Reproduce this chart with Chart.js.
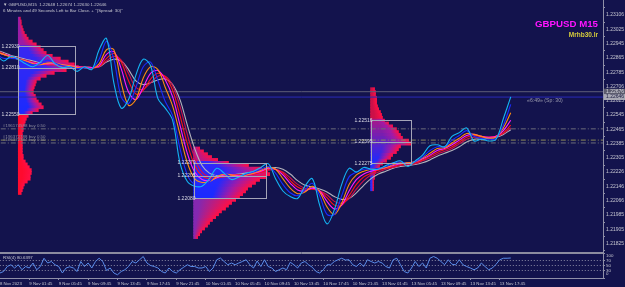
<!DOCTYPE html>
<html lang="en">
<head>
<meta charset="utf-8">
<title>GBPUSD M15</title>
<script src="https://cdn.jsdelivr.net/npm/chart.js@4.4.0/dist/chart.umd.min.js"></script>
<style>
  html, body { margin: 0; padding: 0; background: #13134d; }
  #wrap { position: relative; width: 625px; height: 287px; overflow: hidden; }
  #main { position: absolute; left: 0; top: 0; }
  #rsi { position: absolute; left: 0; top: 253px; }
</style>
</head>
<body>
<div id="wrap">
  <canvas id="main" width="625" height="253"></canvas>
  <canvas id="rsi" width="625" height="34"></canvas>
</div>
<script>
// x axis = M15 bar index, bar 0 = 9 Nov 01:45
var xMin = -15.95, xMax = 312.2;
var yMin = 1.21820, yMax = 1.23148;

var priceTicks = [1.23106, 1.23025, 1.22945, 1.22865, 1.22785, 1.22706, 1.22625, 1.22545, 1.22465,
  1.22385, 1.22305, 1.22226, 1.22146, 1.22066, 1.21985, 1.21905, 1.21825];
var timeBars = [-16, 0, 16, 32, 48, 64, 80, 96, 112, 128, 144, 160, 176, 192, 208, 224, 240, 256];
var timeLabels = ["8 Nov 2023", "9 Nov 01:45", "9 Nov 05:45", "9 Nov 09:45", "9 Nov 13:45", "9 Nov 17:45",
  "9 Nov 21:45", "10 Nov 01:45", "10 Nov 05:45", "10 Nov 09:45", "10 Nov 13:45", "10 Nov 17:45",
  "10 Nov 21:45", "13 Nov 01:45", "13 Nov 05:45", "13 Nov 09:45", "13 Nov 13:45", "13 Nov 17:45"];

// moving average ribbon, one value every 4 bars starting at bar -18
var maFirstBar = -18, maStep = 4;
var cyanMA = [1.22885,1.22848,1.22874,1.22858,1.22832,1.22816,1.22842,1.22879,1.22832,1.22811,
  1.22816,1.22790,1.22816,1.22800,1.22911,1.22974,1.22726,1.22584,1.22632,1.22769,
  1.22858,1.22821,1.22637,1.22584,1.22516,1.22278,1.22173,1.22147,1.22147,1.22189,
  1.22247,1.22220,1.22184,1.22199,1.22220,1.22231,1.22252,1.22273,1.22189,1.22120,
  1.22089,1.22078,1.22147,1.22189,1.22041,1.21936,1.22015,1.22157,1.22247,1.22226,
  1.22252,1.22242,1.22242,1.22263,1.22278,1.22289,1.22257,1.22289,1.22321,1.22373,
  1.22379,1.22368,1.22426,1.22447,1.22473,1.22400,1.22410,1.22400,1.22410,1.22526,1.22647];
var blueMA = [1.22885,1.22863,1.22863,1.22858,1.22842,1.22827,1.22832,1.22853,1.22837,1.22821,
  1.22816,1.22805,1.22811,1.22805,1.22858,1.22958,1.22858,1.22647,1.22610,1.22700,
  1.22816,1.22842,1.22737,1.22621,1.22542,1.22358,1.22210,1.22157,1.22157,1.22173,
  1.22215,1.22220,1.22199,1.22199,1.22215,1.22226,1.22242,1.22257,1.22220,1.22157,
  1.22110,1.22094,1.22126,1.22163,1.22094,1.21989,1.21989,1.22094,1.22199,1.22226,
  1.22242,1.22242,1.22247,1.22257,1.22273,1.22284,1.22273,1.22284,1.22310,1.22347,
  1.22368,1.22368,1.22405,1.22431,1.22458,1.22426,1.22415,1.22410,1.22415,1.22489,1.22605];
var orangeMA = [1.22900,1.22885,1.22869,1.22858,1.22848,1.22832,1.22827,1.22837,1.22837,1.22827,
  1.22821,1.22811,1.22811,1.22805,1.22832,1.22911,1.22911,1.22726,1.22600,1.22632,
  1.22753,1.22816,1.22800,1.22700,1.22595,1.22437,1.22278,1.22189,1.22168,1.22173,
  1.22199,1.22215,1.22210,1.22199,1.22210,1.22220,1.22236,1.22252,1.22242,1.22189,
  1.22136,1.22105,1.22115,1.22147,1.22115,1.22031,1.21989,1.22052,1.22157,1.22210,
  1.22231,1.22242,1.22247,1.22252,1.22268,1.22278,1.22278,1.22284,1.22305,1.22331,
  1.22358,1.22363,1.22389,1.22415,1.22442,1.22437,1.22426,1.22415,1.22421,1.22473,1.22558];
var magentaMA = [1.22895,1.22885,1.22874,1.22858,1.22848,1.22837,1.22832,1.22832,1.22832,1.22827,
  1.22821,1.22816,1.22811,1.22811,1.22821,1.22885,1.22900,1.22805,1.22674,1.22632,
  1.22700,1.22779,1.22795,1.22742,1.22647,1.22489,1.22331,1.22226,1.22184,1.22178,
  1.22194,1.22210,1.22210,1.22205,1.22210,1.22220,1.22231,1.22247,1.22242,1.22210,
  1.22163,1.22126,1.22120,1.22136,1.22120,1.22062,1.22020,1.22041,1.22120,1.22184,
  1.22215,1.22231,1.22242,1.22252,1.22263,1.22273,1.22278,1.22284,1.22300,1.22321,
  1.22347,1.22358,1.22379,1.22405,1.22431,1.22437,1.22426,1.22421,1.22426,1.22458,1.22516];
var redMA = [1.22900,1.22885,1.22874,1.22858,1.22848,1.22837,1.22832,1.22827,1.22827,1.22821,
  1.22821,1.22816,1.22811,1.22811,1.22816,1.22863,1.22890,1.22842,1.22737,1.22663,
  1.22684,1.22747,1.22779,1.22758,1.22684,1.22542,1.22384,1.22263,1.22205,1.22189,
  1.22194,1.22205,1.22210,1.22210,1.22210,1.22215,1.22226,1.22242,1.22242,1.22220,
  1.22178,1.22142,1.22126,1.22131,1.22120,1.22083,1.22041,1.22041,1.22094,1.22157,
  1.22199,1.22220,1.22236,1.22247,1.22257,1.22268,1.22273,1.22278,1.22294,1.22315,
  1.22336,1.22352,1.22368,1.22394,1.22421,1.22431,1.22426,1.22421,1.22426,1.22447,1.22489];
var crimsonMA = [1.22906,1.22890,1.22874,1.22863,1.22853,1.22842,1.22832,1.22827,1.22827,1.22821,
  1.22821,1.22816,1.22816,1.22811,1.22816,1.22848,1.22874,1.22853,1.22779,1.22700,
  1.22690,1.22726,1.22763,1.22763,1.22711,1.22595,1.22437,1.22305,1.22226,1.22199,
  1.22194,1.22199,1.22205,1.22210,1.22210,1.22215,1.22226,1.22236,1.22242,1.22226,
  1.22194,1.22157,1.22136,1.22131,1.22120,1.22099,1.22062,1.22052,1.22078,1.22131,
  1.22178,1.22210,1.22226,1.22242,1.22252,1.22263,1.22268,1.22273,1.22289,1.22305,
  1.22326,1.22342,1.22358,1.22384,1.22410,1.22421,1.22421,1.22421,1.22426,1.22442,1.22473];
var greyMA = [1.22911,1.22895,1.22879,1.22869,1.22858,1.22848,1.22837,1.22832,1.22827,1.22821,
  1.22821,1.22816,1.22816,1.22811,1.22816,1.22842,1.22858,1.22848,1.22800,1.22737,
  1.22716,1.22726,1.22742,1.22747,1.22716,1.22632,1.22489,1.22358,1.22263,1.22220,
  1.22205,1.22205,1.22210,1.22215,1.22220,1.22226,1.22231,1.22242,1.22252,1.22242,
  1.22215,1.22178,1.22152,1.22142,1.22131,1.22115,1.22089,1.22073,1.22078,1.22110,
  1.22152,1.22189,1.22215,1.22231,1.22247,1.22257,1.22263,1.22268,1.22278,1.22294,
  1.22315,1.22331,1.22347,1.22368,1.22394,1.22410,1.22410,1.22415,1.22421,1.22437,1.22463];

// volume profiles: first bar, price of the top bin, bin lengths in bars
var binStep = 0.00016;
var profStart = [-6.0, 89.4, 185.7];
var profTop = [1.23085, 1.22358, 1.22690];
var prof1Len = [1.1,1.6,1.6,2.2,2.7,3.3,4.4,5.4,7.6,9.8,
  12.0,13.6,15.2,18.5,22.9,27.2,30.5,32.7,26.1,19.6,
  15.2,12.0,9.8,9.3,8.7,8.2,8.2,9.3,9.8,10.9,
  12.5,13.6,10.9,7.6,5.4,4.4,3.8,3.3,2.7,2.7,
  2.2,2.2,2.2,2.2,2.2,2.2,2.2,2.2,2.7,2.7,
  3.8,4.9,6.0,7.1,7.1,6.5,6.5,4.9,3.3,2.7,
  2.2,1.6];
var prof2Len = [3.3,5.4,7.6,9.8,13.1,19.0,29.9,37.0,40.3,41.4,
  39.2,35.9,33.7,31.6,29.4,28.3,26.7,25.0,22.9,20.7,
  19.0,17.4,15.2,13.6,12.0,10.3,8.7,7.6,6.0,4.4,
  3.3,2.2];
var prof3Len = [2.2,2.7,2.7,3.3,3.3,3.3,3.8,4.4,5.4,6.0,
  6.5,7.6,9.8,12.0,14.1,15.2,16.3,17.4,20.7,21.8,
  16.3,15.2,14.1,12.0,10.9,8.7,6.5,4.9,3.8,2.7,
  2.2,2.2,1.6,1.6,1.6,1.6];

// value area boxes
var boxEnd = [25.0, 128.8, 207.6];
var boxHigh = [1.22930, 1.22279, 1.22516];
var boxPoc = [1.22810, 1.22205, 1.22395];
var boxLow = [1.22550, 1.22080, 1.22275];

var askPrice = 1.22676, bidPrice = 1.22646;
var orderPrices = [1.22468, 1.22405, 1.22389];
var orderLabels = ["#196174588 buy 0.50", "#196372788 buy 0.50", "#196372784 buy 0.50"];

// RSI(4), one value every 2 bars starting at bar -16
var rsiFirstBar = -16, rsiStep = 2;
var rsiValues = [20,26,46,53,40,53,33,46,40,60,
  33,46,79,60,66,53,46,20,40,45,
  40,26,66,46,60,40,66,79,66,30,
  40,20,13,26,33,46,66,60,73,86,
  60,50,46,40,26,20,40,26,20,33,
  43,53,46,46,40,40,46,26,40,73,
  80,66,53,60,53,60,66,73,53,40,
  68,46,73,46,40,26,33,40,33,63,
  53,40,60,66,53,43,26,20,33,53,
  53,66,73,79,72,73,53,46,60,46,
  73,66,60,66,60,46,40,73,79,53,
  26,20,40,66,46,60,40,79,86,79,
  66,53,73,55,53,73,53,46,40,33,
  40,60,46,33,40,55,73,79,79,80];
var rsiLevels = [70, 50, 30];
var rsiTicks = [100, 70, 50, 30, 0];

// ---------- styles ----------
var FONT = '"Liberation Sans", Arial, sans-serif';
var axisColor = '#8f8fa8';
var textColor = '#c6c6d0';
var profAbove = ['#9a1ca6', '#b81888', '#cc1048'];
var profBelow = ['#ff0a2e', '#8428b0', '#2430ff'];
var belowHold = [0.3, 0.15, 0.3];
var vaTop = ['#3a28f0', '#3028f8', '#a81888'];
var vaBottomColor = '#1a2aff', midColor = '#a01aa8', tipColor = '#ff0f45';

function mix(a, b, t) {
  var r = [1, 3, 5].map(function (i) {
    var ca = parseInt(a.substr(i, 2), 16), cb = parseInt(b.substr(i, 2), 16);
    return Math.round(ca + (cb - ca) * t);
  });
  return 'rgb(' + r.join(',') + ')';
}

function series(first, step, vals) {
  return vals.map(function (v, i) { return { x: first + i * step, y: v }; });
}

function profileData(k, lens) {
  return lens.map(function (len, i) {
    return { x: [profStart[k], profStart[k] + len], y: profTop[k] - i * binStep };
  });
}

function profileColor(k) {
  return function (c) {
    if (c.type !== 'data' || !c.raw) return tipColor;
    var xs = c.chart.scales.x, d = c.raw, left, inVA = false;
    if (d.y > boxHigh[k]) left = profAbove[k];
    else if (d.y < boxLow[k]) left = profBelow[k];
    else {
      inVA = true;
      left = mix(vaTop[k], vaBottomColor, (boxHigh[k] - d.y) / (boxHigh[k] - boxLow[k]));
    }
    var x0 = xs.getPixelForValue(d.x[0]), x1 = xs.getPixelForValue(d.x[1]);
    if (!isFinite(x0) || x1 - x0 < 2) return left;
    var g = c.chart.ctx.createLinearGradient(x0, 0, x1, 0);
    g.addColorStop(0, left);
    if (inVA) {
      g.addColorStop(0.4, left);
      g.addColorStop(0.72, midColor);
    } else {
      g.addColorStop(d.y < boxLow[k] ? belowHold[k] : 0.3, left);
    }
    g.addColorStop(1, tipColor);
    return g;
  };
}

function maLine(vals, color, order) {
  return { type: 'line', data: series(maFirstBar, maStep, vals), borderColor: color, borderWidth: 1.1,
    pointRadius: 0, tension: 0.35, fill: false, order: order };
}

function hLine(price, color, dash, order) {
  return { type: 'line', data: [{ x: xMin - 5, y: price }, { x: xMax + 5, y: price }], borderColor: color,
    borderWidth: 1, borderDash: dash, pointRadius: 0, fill: false, order: order };
}

var datasets = [];
[prof1Len, prof2Len, prof3Len].forEach(function (lens, k) {
  datasets.push({ type: 'bar', indexAxis: 'y', grouped: false, barThickness: 3.1, borderWidth: 0,
    data: profileData(k, lens), backgroundColor: profileColor(k), order: 30 });
});
datasets.push(hLine(askPrice, '#5e5e78', [], 20));
datasets.push(hLine(bidPrice, '#2a2ab8', [], 20));
datasets.push(hLine(orderPrices[0], '#6c6c7a', [5, 2, 1, 2], 20));
datasets.push(hLine(orderPrices[1], '#8c8a58', [5, 2, 1, 2], 20));
datasets.push(hLine(orderPrices[2], '#6c6c7a', [5, 2, 1, 2], 20));
datasets.push(maLine(greyMA, '#b4b4bc', 9));
datasets.push(maLine(crimsonMA, '#d0104c', 8));
datasets.push(maLine(redMA, '#ff1414', 7));
datasets.push(maLine(magentaMA, '#ff1cff', 6));
datasets.push(maLine(orangeMA, '#ff8c10', 5));
datasets.push(maLine(blueMA, '#1a2cff', 4));
datasets.push(maLine(cyanMA, '#14b4f4', 3));

function text(ctx, s, x, y, font, color, align) {
  ctx.font = font;
  ctx.fillStyle = color;
  ctx.textAlign = align || 'left';
  ctx.textBaseline = 'middle';
  ctx.fillText(s, x, y);
}

var overlay = {
  id: 'overlay',
  afterDatasetsDraw: function (chart) {
    var ctx = chart.ctx, xs = chart.scales.x, ys = chart.scales.y;
    ctx.save();
    ctx.strokeStyle = '#a4a4b8';
    ctx.lineWidth = 1;
    for (var k = 0; k < 3; k++) {
      var x0 = Math.round(xs.getPixelForValue(profStart[k])) + 0.5;
      var x1 = Math.round(xs.getPixelForValue(boxEnd[k])) + 0.5;
      var y0 = Math.round(ys.getPixelForValue(boxHigh[k])) + 0.5;
      var y1 = Math.round(ys.getPixelForValue(boxLow[k])) + 0.5;
      var yp = Math.round(ys.getPixelForValue(boxPoc[k])) + 0.5;
      ctx.strokeRect(x0, y0, x1 - x0, y1 - y0);
      ctx.beginPath();
      ctx.moveTo(x0, yp); ctx.lineTo(x1, yp);
      ctx.stroke();
      [boxHigh[k], boxPoc[k], boxLow[k]].forEach(function (p) {
        text(ctx, p.toFixed(5), x0 + 1, ys.getPixelForValue(p), '5px ' + FONT, '#dcdce6', 'right');
      });
    }
    orderPrices.forEach(function (p, i) {
      text(ctx, orderLabels[i], 3, ys.getPixelForValue(p) - 3, '4.4px ' + FONT, '#8a8a9c');
    });
    ctx.restore();
  },
  afterDraw: function (chart) {
    var ctx = chart.ctx, ys = chart.scales.y, area = chart.chartArea;
    ctx.save();
    text(ctx, '\u25BC GBPUSD,M15  1.22648 1.22674 1.22630 1.22646', 3, 4.5, '4.4px ' + FONT, textColor);
    text(ctx, '6 Minutes and 49 Seconds Left to Bar Close. + "(Spread: 30)"', 3, 11, '4.4px ' + FONT, textColor);
    text(ctx, 'GBPUSD M15', 598, 24, 'bold 9.7px ' + FONT, '#ff14ff', 'right');
    text(ctx, 'Mrhb30.lr', 598, 35.5, 'bold 6.5px ' + FONT, '#d6cc3c', 'right');
    text(ctx, '\u00AB6:49\u00BB (Sp: 30)', 527, ys.getPixelForValue(bidPrice) + 3.5, '5.2px ' + FONT, '#9a9aae');
    // current ask / bid marks on the price axis
    [[askPrice, '#5c5c6e', '#d8d8e0'], [bidPrice, '#a8a8b4', '#1a1a40']].forEach(function (m) {
      var y = ys.getPixelForValue(m[0]);
      ctx.fillStyle = m[1];
      ctx.fillRect(area.right + 1, y - 3, 21, 6);
      text(ctx, m[0].toFixed(5), area.right + 3, y, '5px ' + FONT, m[2]);
    });
    ctx.strokeStyle = '#8c8ca0';
    ctx.beginPath();
    ctx.moveTo(0, 252.5); ctx.lineTo(area.right, 252.5);
    ctx.stroke();
    ctx.restore();
  }
};

new Chart(document.getElementById('main'), {
  type: 'line',
  data: { datasets: datasets },
  options: {
    responsive: false, animation: false, devicePixelRatio: 1, events: [],
    layout: { padding: { top: 0, right: 0, bottom: 1, left: 0 } },
    plugins: { legend: { display: false }, tooltip: { enabled: false } },
    scales: {
      x: { type: 'linear', min: xMin, max: xMax, display: false },
      y: {
        type: 'linear', position: 'right', min: yMin, max: yMax,
        afterBuildTicks: function (s) { s.ticks = priceTicks.map(function (v) { return { value: v }; }); },
        afterFit: function (s) { s.width = 22; s.paddingTop = 0; s.paddingBottom = 0; },
        ticks: { autoSkip: false, padding: 1, color: textColor, font: { family: FONT, size: 5 },
          callback: function (v) { return v.toFixed(5); } },
        grid: { drawOnChartArea: false, tickLength: 2, color: axisColor },
        border: { color: axisColor }
      }
    }
  },
  plugins: [overlay]
});

// ---------- RSI window ----------
var rsiSets = [{ data: series(rsiFirstBar, rsiStep, rsiValues), borderColor: '#5a8ce8', borderWidth: 1,
  pointRadius: 0, tension: 0, fill: false }];
rsiLevels.forEach(function (lv) {
  rsiSets.push({ data: [{ x: xMin - 5, y: lv }, { x: xMax + 5, y: lv }], borderColor: '#8a8aa4',
    borderWidth: 1, borderDash: [1, 2], pointRadius: 0, fill: false });
});

var rsiOverlay = {
  id: 'rsiOverlay',
  afterDraw: function (chart) {
    var ctx = chart.ctx, ys = chart.scales.y, area = chart.chartArea;
    ctx.save();
    ctx.strokeStyle = '#8c8ca0';
    ctx.beginPath();
    ctx.moveTo(0, 0.5); ctx.lineTo(area.right, 0.5);
    ctx.stroke();
    text(ctx, 'RSI(4) 80.6397', 3, 4.5, '4.4px ' + FONT, textColor);
    rsiTicks.forEach(function (v) {
      var y = Math.min(Math.max(ys.getPixelForValue(v), 3), 21);
      text(ctx, String(v), area.right + 3, y, '4.4px ' + FONT, textColor);
    });
    ctx.restore();
  }
};

new Chart(document.getElementById('rsi'), {
  type: 'line',
  data: { datasets: rsiSets },
  options: {
    responsive: false, animation: false, devicePixelRatio: 1, events: [],
    layout: { padding: 0 },
    plugins: { legend: { display: false }, tooltip: { enabled: false } },
    scales: {
      x: {
        type: 'linear', min: xMin, max: xMax, position: 'bottom',
        afterBuildTicks: function (s) { s.ticks = timeBars.map(function (v) { return { value: v }; }); },
        afterFit: function (s) { s.height = 9; s.paddingLeft = 0; s.paddingRight = 0; },
        ticks: { autoSkip: false, maxRotation: 0, align: 'start', padding: 1, color: textColor,
          font: { family: FONT, size: 4.3 },
          callback: function (v, i) { return timeLabels[i]; } },
        grid: { drawOnChartArea: false, tickLength: 2, color: axisColor },
        border: { color: axisColor }
      },
      y: {
        type: 'linear', position: 'right', min: 0, max: 100,
        afterBuildTicks: function (s) { s.ticks = rsiTicks.map(function (v) { return { value: v }; }); },
        afterFit: function (s) { s.width = 22; s.paddingTop = 0; s.paddingBottom = 0; },
        ticks: { display: false },
        grid: { drawOnChartArea: false, tickLength: 2, color: axisColor },
        border: { color: axisColor }
      }
    }
  },
  plugins: [rsiOverlay]
});
</script>
</body>
</html>
